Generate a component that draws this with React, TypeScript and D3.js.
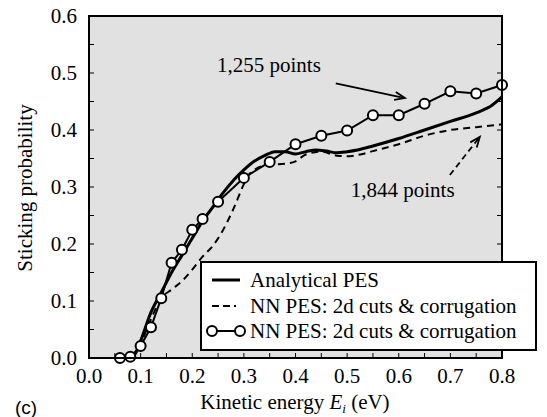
import React from "react";
import * as d3 from "d3";

const analyticalE = [0.08, 0.09, 0.10, 0.12, 0.14, 0.16, 0.18, 0.20, 0.22, 0.24, 0.26, 0.28, 0.30, 0.32, 0.34, 0.36, 0.38, 0.40, 0.42, 0.44, 0.46, 0.48, 0.50, 0.52, 0.55, 0.60, 0.65, 0.70, 0.75, 0.78, 0.80];
const analyticalP = [0.0, 0.008, 0.03, 0.08, 0.115, 0.15, 0.18, 0.21, 0.24, 0.265, 0.29, 0.312, 0.33, 0.345, 0.355, 0.362, 0.362, 0.358, 0.362, 0.365, 0.363, 0.36, 0.362, 0.365, 0.372, 0.385, 0.4, 0.415, 0.43, 0.443, 0.458];

const dashedE = [0.085, 0.10, 0.12, 0.14, 0.16, 0.18, 0.20, 0.22, 0.24, 0.26, 0.28, 0.30, 0.31, 0.32, 0.35, 0.38, 0.40, 0.42, 0.45, 0.48, 0.50, 0.53, 0.55, 0.60, 0.65, 0.70, 0.75, 0.80];
const dashedP = [0.0, 0.025, 0.068, 0.105, 0.12, 0.135, 0.155, 0.178, 0.197, 0.225, 0.262, 0.305, 0.322, 0.33, 0.339, 0.341, 0.345, 0.357, 0.362, 0.355, 0.354, 0.358, 0.363, 0.375, 0.39, 0.4, 0.405, 0.41];

const circleE = [0.06, 0.08, 0.10, 0.12, 0.14, 0.16, 0.18, 0.20, 0.22, 0.25, 0.30, 0.35, 0.40, 0.45, 0.50, 0.55, 0.60, 0.65, 0.70, 0.75, 0.80];
const circleP = [0.0, 0.002, 0.021, 0.054, 0.105, 0.167, 0.19, 0.225, 0.244, 0.274, 0.316, 0.344, 0.375, 0.39, 0.399, 0.426, 0.426, 0.446, 0.468, 0.464, 0.479];

const xTicks = [0, 0.1, 0.2, 0.3, 0.4, 0.5, 0.6, 0.7, 0.8];
const yTicks = [0, 0.1, 0.2, 0.3, 0.4, 0.5, 0.6];
const minorTicksX = d3.range(0, 0.8001, 0.05);
const minorTicksY = d3.range(0, 0.6001, 0.05);

const legendLabels = ["Analytical PES", "NN PES: 2d cuts & corrugation", "NN PES: 2d cuts & corrugation"];

// annotations in data units
const label1 = { text: "1,255 points", e: 0.248, p: 0.502 };
const arrow1 = { e0: 0.478, p0: 0.482, e1: 0.612, p1: 0.456 };
const label2 = { text: "1,844 points", e: 0.507, p: 0.282 };
const arrow2 = { e0: 0.699, p0: 0.321, e1: 0.757, p1: 0.388 };

const W = 547, H = 417;
const L = 89, R = 502, T = 16, B = 358;
const SERIF = "Liberation Serif, Tinos, Times New Roman, Times, DejaVu Serif, serif";
const FS = 21;

function Arrow({ x0, y0, x1, y1, dashed }: { x0: number; y0: number; x1: number; y1: number; dashed?: boolean }) {
  const ang = Math.atan2(y1 - y0, x1 - x0);
  const len = 11, spread = 0.38;
  const a1x = x1 - len * Math.cos(ang - spread), a1y = y1 - len * Math.sin(ang - spread);
  const a2x = x1 - len * Math.cos(ang + spread), a2y = y1 - len * Math.sin(ang + spread);
  return (
    <g stroke="#000" strokeWidth={1.8} fill="none">
      <line x1={x0} y1={y0} x2={x1} y2={y1} strokeDasharray={dashed ? "6,4" : undefined} />
      <polyline points={`${a1x},${a1y} ${x1},${y1} ${a2x},${a2y}`} />
    </g>
  );
}

export default function App() {
  const x = d3.scaleLinear().domain([0, 0.8]).range([L, R]);
  const y = d3.scaleLinear().domain([0, 0.6]).range([B, T]);
  const line = d3.line<[number, number]>().x((d) => x(d[0])).y((d) => y(d[1])).curve(d3.curveMonotoneX);
  const lineLin = d3.line<[number, number]>().x((d) => x(d[0])).y((d) => y(d[1]));

  const aData = analyticalE.map((e, i) => [e, analyticalP[i]] as [number, number]);
  const dData = dashedE.map((e, i) => [e, dashedP[i]] as [number, number]);
  const cData = circleE.map((e, i) => [e, circleP[i]] as [number, number]);

  const legX = 201, legY = 262, legW = 335, legH = 88;
  const rowY = [280, 306, 331];

  return (
    <svg width={W} height={H} style={{ position: "absolute", left: 0, top: 0 }} fontFamily={SERIF}>
      <rect x={0} y={0} width={W} height={H} fill="#fff" />
      <rect x={L} y={T} width={R - L} height={B - T} fill="#e1e1e1" />
      <defs>
        <clipPath id="clip">
          <rect x={L} y={T - 10} width={R - L + 10} height={B - T + 12} />
        </clipPath>
      </defs>
      <g stroke="#000" strokeWidth={1}>
        {minorTicksY.map((v, i) => (
          <g key={"y" + i}>
            <line x1={L} x2={L + 5} y1={y(v)} y2={y(v)} />
            <line x1={R} x2={R - 5} y1={y(v)} y2={y(v)} />
          </g>
        ))}
        {minorTicksX.map((v, i) => (
          <line key={"x" + i} x1={x(v)} x2={x(v)} y1={B} y2={B - 5} />
        ))}
      </g>
      <g clipPath="url(#clip)">
        <path d={line(dData) || ""} fill="none" stroke="#000" strokeWidth={2} strokeDasharray="7,5" />
        <path d={line(aData) || ""} fill="none" stroke="#000" strokeWidth={3} />
        <path d={lineLin(cData) || ""} fill="none" stroke="#000" strokeWidth={2} />
      </g>
      {cData.map((d, i) => (
        <circle key={i} cx={x(d[0])} cy={y(d[1])} r={5} fill="#fff" stroke="#000" strokeWidth={2} />
      ))}
      <rect x={L} y={T} width={R - L} height={B - T} fill="none" stroke="#000" strokeWidth={2} />
      <text x={x(label1.e)} y={y(label1.p)} fontSize={FS}>{label1.text}</text>
      <Arrow x0={x(arrow1.e0)} y0={y(arrow1.p0)} x1={x(arrow1.e1)} y1={y(arrow1.p1)} />
      <text x={x(label2.e)} y={y(label2.p)} fontSize={FS}>{label2.text}</text>
      <Arrow x0={x(arrow2.e0)} y0={y(arrow2.p0)} x1={x(arrow2.e1)} y1={y(arrow2.p1)} dashed />
      <rect x={legX} y={legY} width={legW} height={legH} fill="#fff" stroke="#000" strokeWidth={2} />
      <line x1={212} x2={240} y1={rowY[0]} y2={rowY[0]} stroke="#000" strokeWidth={3} />
      <line x1={212} x2={240} y1={rowY[1]} y2={rowY[1]} stroke="#000" strokeWidth={2} strokeDasharray="7,4,7,4,2" />
      <line x1={212} x2={240} y1={rowY[2]} y2={rowY[2]} stroke="#000" strokeWidth={2} />
      <circle cx={212} cy={rowY[2]} r={5} fill="#fff" stroke="#000" strokeWidth={2} />
      <circle cx={240} cy={rowY[2]} r={5} fill="#fff" stroke="#000" strokeWidth={2} />
      {legendLabels.map((t, i) => (
        <text key={i} x={250} y={rowY[i] + 7} fontSize={FS}>{t}</text>
      ))}
      {yTicks.map((v) => (
        <text key={"yl" + v} x={L - 12} y={y(v) + 7} textAnchor="end" fontSize={FS}>{v.toFixed(1)}</text>
      ))}
      {xTicks.map((v) => (
        <text key={"xl" + v} x={x(v)} y={383} textAnchor="middle" fontSize={FS}>{v.toFixed(1)}</text>
      ))}
      <text x={295} y={409} textAnchor="middle" fontSize={FS}>
        Kinetic energy <tspan fontStyle="italic">E</tspan>
        <tspan fontStyle="italic" fontSize={13} dy={4}>i</tspan>
        <tspan dy={-4}> (eV)</tspan>
      </text>
      <text transform={`translate(32, 188) rotate(-90)`} textAnchor="middle" fontSize={FS}>Sticking probability</text>
      <text x={15} y={414} fontFamily="Liberation Sans, Arimo, Arial, sans-serif" fontSize={19}>(c)</text>
    </svg>
  );
}
